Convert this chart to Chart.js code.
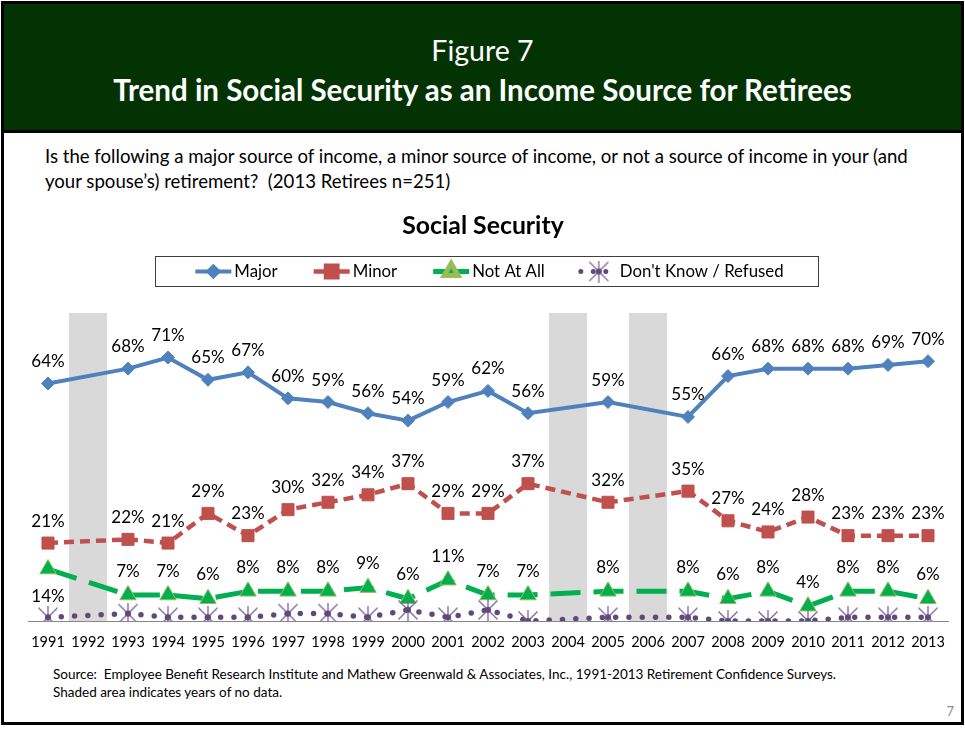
<!DOCTYPE html>
<html>
<head>
<meta charset="utf-8">
<title>Trend in Social Security as an Income Source for Retirees</title>
<script src="https://cdn.jsdelivr.net/npm/chart.js@4/dist/chart.umd.min.js"></script>
<style>
  html, body { margin: 0; padding: 0; background: #fff; }
  body { width: 965px; height: 729px; position: relative; overflow: hidden; font-family: Lato, "Open Sans", sans-serif; color: #000; }
  #frame { position: absolute; left: 1px; top: 1px; width: 963px; height: 724px; border: 3px solid #000; box-sizing: border-box; }
  #head { position: absolute; left: 4px; top: 4px; width: 957px; height: 126px; background: #033303; border-bottom: 3px solid #000; }
  .h { position: absolute; left: 4px; width: 957px; text-align: center; color: #fff; white-space: nowrap; }
  #fig { top: 31px; height: 38px; line-height: 38px; font-size: 28.5px; }
  #ttl { top: 71px; height: 38px; line-height: 38px; font-size: 29.5px; font-weight: bold; }
  #q { position: absolute; left: 45px; top: 144px; font-size: 18.6px; line-height: 25px; white-space: nowrap; }
  #src { position: absolute; left: 53px; top: 665px; font-size: 13.5px; line-height: 18px; white-space: nowrap; }
  #pg { position: absolute; left: 940px; top: 703px; width: 14px; text-align: right; font-size: 13px; color: #8c8c8c; }
  #chart { position: absolute; left: 0; top: 200px; }
</style>
</head>
<body>
<div id="frame"></div>
<div id="head"></div>
<div class="h" id="fig">Figure 7</div>
<div class="h" id="ttl">Trend in Social Security as an Income Source for Retirees</div>
<div id="q">Is the following a major source of income, a minor source of income, or not a source of income in your (and<br>your spouse’s) retirement?&nbsp; (2013 Retirees n=251)</div>
<canvas id="chart" width="965" height="460"></canvas>
<div id="src">Source:&nbsp; Employee Benefit Research Institute and Mathew Greenwald &amp; Associates, Inc., 1991-2013 Retirement Confidence Surveys.<br>Shaded area indicates years of no data.</div>
<div id="pg">7</div>

<script>
// Survey years (1992, 2004 and 2006 have no survey data)
const years = ['1991','1992','1993','1994','1995','1996','1997','1998','1999','2000','2001','2002',
               '2003','2004','2005','2006','2007','2008','2009','2010','2011','2012','2013'];

// Percent of retirees naming Social Security as each kind of income source
const major      = [64, null, 68, 71, 65, 67, 60, 59, 56, 54, 59, 62, 56, null, 59, null, 55, 66, 68, 68, 68, 69, 70];
const minor      = [21, null, 22, 21, 29, 23, 30, 32, 34, 37, 29, 29, 37, null, 32, null, 35, 27, 24, 28, 23, 23, 23];
const notAtAll   = [14, null,  7,  7,  6,  8,  8,  8,  9,  6, 11,  7,  7, null,  8, null,  8,  6,  8,  4,  8,  8,  6];
const dontKnow   = [ 1, null,  2,  1,  1,  1,  2,  2,  1,  3,  1,  3,  0, null,  1, null,  1,  0,  0,  0,  1,  1,  1];

// Years without data, shown as shaded columns
const noDataYears = ['1992', '2004', '2006'];

const Y_MAX = 83;
const noDataBars = years.map(y => noDataYears.includes(y) ? Y_MAX : null);

const FONT = 'Lato, "Open Sans", sans-serif';

// Star marker with a centre dot for the "Don't Know / Refused" series
function makeStar() {
  const c = document.createElement('canvas');
  c.width = 22; c.height = 22;
  const g = c.getContext('2d');
  g.strokeStyle = '#8064a2';
  g.lineWidth = 1.3;
  g.beginPath();
  g.moveTo(1.5, 1.5); g.lineTo(20.5, 20.5);
  g.moveTo(20.5, 1.5); g.lineTo(1.5, 20.5);
  g.moveTo(11, 0); g.lineTo(11, 22);
  g.stroke();
  g.fillStyle = '#5f497a';
  g.beginPath(); g.arc(11, 11, 3, 0, Math.PI * 2); g.fill();
  return c;
}
const star = makeStar();

// Value labels above each point (a few placed below)
const valueLabels = {
  id: 'valueLabels',
  afterDatasetsDraw(chart) {
    const ctx = chart.ctx;
    ctx.save();
    ctx.font = '17px ' + FONT;
    ctx.fillStyle = '#000';
    ctx.textAlign = 'center';
    ctx.textBaseline = 'middle';
    chart.data.datasets.forEach((ds, i) => {
      if (!ds.showValues) return;
      const meta = chart.getDatasetMeta(i);
      meta.data.forEach((pt, j) => {
        const v = ds.data[j];
        if (v === null || v === undefined) return;
        const below = (ds.labelsBelow || []).includes(j);
        const y = below ? pt.y + ds.labelGapBelow : pt.y - ds.labelGap;
        ctx.fillText(v + '%', pt.x, y);
      });
    });
    ctx.restore();
  }
};

// Chart heading and boxed legend drawn on the canvas
const headingAndLegend = {
  id: 'headingAndLegend',
  afterDraw(chart) {
    const ctx = chart.ctx;
    ctx.save();
    ctx.fillStyle = '#000';
    ctx.textAlign = 'center';
    ctx.textBaseline = 'middle';
    ctx.font = 'bold 24.8px ' + FONT;
    ctx.fillText('Social Security', 483, 26);

    // legend box
    const bx = 155, by = 56, bw = 663, bh = 30;
    ctx.strokeStyle = '#3f3f3f';
    ctx.lineWidth = 1;
    ctx.strokeRect(bx + 0.5, by + 0.5, bw, bh);

    ctx.font = '16.8px ' + FONT;
    ctx.textAlign = 'left';
    const items = chart.data.datasets.filter(d => d.type !== 'bar');
    const symW = 36, gap = 3, spacing = 36;
    const widths = items.map(d => symW + gap + ctx.measureText(d.label).width);
    const total = widths.reduce((a, b) => a + b, 0) + spacing * (items.length - 1);
    let x = bx + bw / 2 - total / 2 + 3;
    const cy = by + bh / 2 + 0.5;
    items.forEach((d, k) => {
      ctx.save();
      ctx.strokeStyle = d.borderColor;
      ctx.lineWidth = Math.min(d.borderWidth, 5);
      ctx.lineCap = d.borderCapStyle || 'butt';
      if (d.legendDash) ctx.setLineDash(d.legendDash);
      ctx.beginPath();
      ctx.moveTo(x, cy); ctx.lineTo(x + symW, cy);
      ctx.stroke();
      ctx.setLineDash([]);
      ctx.fillStyle = d.pointBackgroundColor;
      ctx.strokeStyle = d.pointBorderColor;
      Chart.helpers.drawPoint(ctx, {
        pointStyle: d.pointStyle,
        radius: d.legendRadius,
        borderWidth: d.pointBorderWidth,
        rotation: 0
      }, x + symW / 2, cy);
      ctx.restore();
      ctx.fillStyle = '#000';
      ctx.fillText(d.label, x + symW + gap, cy);
      x += widths[k] + spacing;
    });
    ctx.restore();
  }
};

new Chart(document.getElementById('chart'), {
  type: 'line',
  data: {
    labels: years,
    datasets: [
      {
        label: 'Major',
        data: major,
        borderColor: '#4f81bd',
        borderWidth: 4,
        pointStyle: 'rectRot',
        pointRadius: 6.5,
        legendRadius: 5,
        pointBackgroundColor: '#4f81bd',
        pointBorderColor: '#4f81bd',
        pointBorderWidth: 1,
        spanGaps: true,
        showValues: true,
        labelGap: 22,
        order: 3
      },
      {
        label: 'Minor',
        data: minor,
        borderColor: '#c0504d',
        borderWidth: 4.5,
        borderDash: [10, 6],
        legendDash: [],
        pointStyle: 'rect',
        pointRadius: 8.5,
        legendRadius: 8,
        pointBackgroundColor: '#c0504d',
        pointBorderColor: '#c0504d',
        pointBorderWidth: 1,
        spanGaps: true,
        showValues: true,
        labelGap: 22,
        order: 2
      },
      {
        label: 'Not At All',
        data: notAtAll,
        borderColor: '#00b050',
        borderWidth: 5,
        borderDash: [30, 13],
        legendDash: [],
        pointStyle: 'triangle',
        pointRadius: 9.5,
        legendRadius: 8,
        pointBackgroundColor: '#00b050',
        pointBorderColor: '#9bbb59',
        pointBorderWidth: 1,
        spanGaps: true,
        showValues: true,
        labelGap: 24,
        labelsBelow: [0],
        labelGapBelow: 27,
        order: 1
      },
      {
        label: "Don't Know / Refused",
        data: dontKnow,
        borderColor: '#5f497a',
        borderWidth: 5.5,
        borderDash: [0, 13.3],
        legendDash: [0, 12.5],
        borderCapStyle: 'round',
        pointStyle: star,
        legendRadius: 8,
        pointBackgroundColor: '#5f497a',
        pointBorderColor: '#8064a2',
        pointBorderWidth: 1,
        spanGaps: true,
        showValues: false,
        order: 0
      },
      {
        type: 'bar',
        label: 'No data',
        data: noDataBars,
        backgroundColor: '#d9d9d9',
        borderWidth: 0,
        barPercentage: 0.95,
        categoryPercentage: 1,
        order: 10
      }
    ]
  },
  options: {
    responsive: false,
    animation: false,
    devicePixelRatio: 1,
    layout: { padding: { top: 113, left: 28, right: 17, bottom: 0 } },
    plugins: {
      legend: { display: false },
      title: { display: false },
      tooltip: { enabled: false }
    },
    scales: {
      x: {
        offset: true,
        grid: { display: false, drawTicks: false },
        border: { display: true, color: '#868686', width: 1 },
        ticks: {
          color: '#000',
          padding: 13,
          maxRotation: 0,
          autoSkip: false,
          font: { family: FONT, size: 14.5 }
        },
        afterFit(axis) { axis.height = 39; }
      },
      y: {
        display: false,
        min: 0,
        max: Y_MAX
      }
    }
  },
  plugins: [valueLabels, headingAndLegend]
});
</script>
</body>
</html>
